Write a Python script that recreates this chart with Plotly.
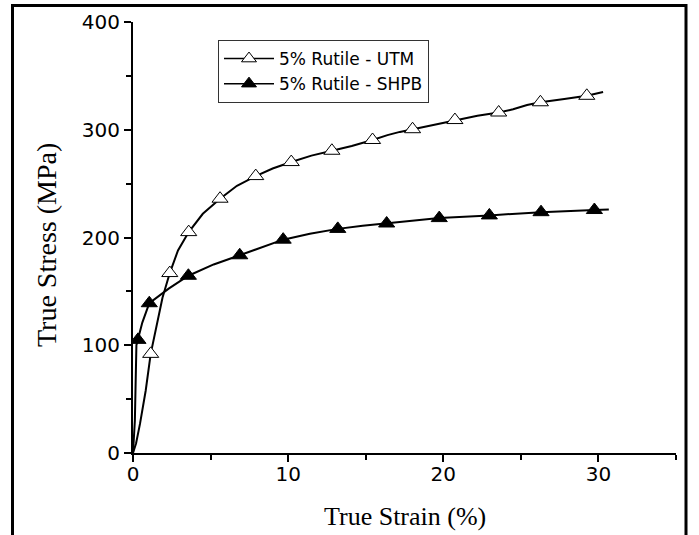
import plotly.graph_objects as go

# ---- data ----
utm_strain = [0, 0.2, 0.45, 0.82, 1.14, 1.5, 1.9, 2.37, 2.9, 3.59, 4.5, 5.61, 6.7, 7.91, 9.0,
              10.2, 11.5, 12.82, 14.1, 15.44, 16.4, 17.2, 18.02, 19.4, 20.75, 22.2, 23.57,
              24.5, 25.4, 26.26, 27.8, 29.25, 30.3]
utm_stress = [0, 9, 27, 58, 92, 116, 144, 167, 188, 205, 222, 236, 248, 257, 264,
              270, 276, 280.5, 285, 290.5, 295, 298, 300.5, 305, 309, 313, 316,
              319, 323, 325.5, 328.5, 331.5, 335]
utm_marker_strain = [1.14, 2.37, 3.59, 5.61, 7.91, 10.2, 12.82, 15.44, 18.02, 20.75, 23.57, 26.26, 29.25]
utm_marker_stress = [92, 167, 205, 236, 257, 270, 280.5, 290.5, 300.5, 309, 316, 325.5, 331.5]

shpb_strain = [0, 0.12, 0.22, 0.32, 0.6, 1.05, 2.3, 3.57, 5.2, 6.88, 8.3, 9.68, 11.4, 13.2,
               14.8, 16.35, 18.0, 19.74, 22.97, 26.3, 29.74, 30.67]
shpb_stress = [0, 30, 100, 105, 121, 139, 152.5, 164.5, 175, 183.5, 191, 198, 203.5, 208,
               211, 213, 215.5, 218, 220.5, 223.5, 225.5, 226]
shpb_marker_strain = [0.32, 1.05, 3.57, 6.88, 9.68, 13.2, 16.35, 19.74, 22.97, 26.3, 29.74]
shpb_marker_stress = [105, 139, 164.5, 183.5, 198, 208, 213, 218, 220.5, 223.5, 225.5]

series_names = ["5% Rutile - UTM", "5% Rutile - SHPB"]
x_ticks = [0, 10, 20, 30]
y_ticks = [0, 100, 200, 300, 400]
x_title = "True Strain (%)"
y_title = "True Stress (MPa)"

# ---- layout geometry (pixels) ----
W, H = 699, 535
L, R, T, B = 133, 23, 22, 82
pw, ph = W - L - R, H - T - B

def px(xp):
    return (xp - L) / pw

def py(yp):
    return (H - B - yp) / ph

fig = go.Figure()

styles = [
    dict(color="white", line=dict(color="black", width=1)),
    dict(color="black", line=dict(color="black", width=1)),
]
lines = [(utm_strain, utm_stress), (shpb_strain, shpb_stress)]
marks = [(utm_marker_strain, utm_marker_stress), (shpb_marker_strain, shpb_marker_stress)]

for i in range(2):
    fig.add_trace(go.Scatter(x=lines[i][0], y=lines[i][1], mode="lines",
                             line=dict(color="black", width=2), showlegend=False,
                             hoverinfo="skip"))
for i in range(2):
    fig.add_trace(go.Scatter(x=marks[i][0], y=marks[i][1], mode="markers",
                             marker=dict(symbol="triangle-up", size=14, **styles[i]),
                             showlegend=False, name=series_names[i]))
# legend entries
for i in range(2):
    fig.add_trace(go.Scatter(x=[None], y=[None], mode="lines+markers", name=series_names[i],
                             line=dict(color="black", width=1.5),
                             marker=dict(symbol="triangle-up", size=13, **styles[i])))

axis_common = dict(showline=True, linewidth=2, linecolor="black", showgrid=False,
                   zeroline=False, ticks="outside", ticklen=7, tickwidth=1.5,
                   tickcolor="black",
                   tickfont=dict(family="DejaVu Sans", size=20, color="black"))

fig.update_xaxes(range=[0, 35], tickvals=x_ticks, ticklabelstandoff=-5,
                 minor=dict(dtick=5, ticks="outside", ticklen=5, tickwidth=1.5, tickcolor="black"),
                 **axis_common)
fig.update_yaxes(range=[0, 400], tickvals=y_ticks,
                 minor=dict(dtick=50, ticks="outside", ticklen=5, tickwidth=1.5, tickcolor="black"),
                 **axis_common)

fig.add_annotation(text=y_title, xref="paper", yref="paper", x=px(46), y=py(245),
                   xanchor="center", yanchor="middle", textangle=-90, showarrow=False,
                   font=dict(family="Liberation Serif", size=28, color="black"))
fig.add_annotation(text=x_title, xref="paper", yref="paper", x=px(405), y=py(516),
                   xanchor="center", yanchor="middle", showarrow=False,
                   font=dict(family="Liberation Serif", size=26, color="black"))

# outer frame
fig.add_shape(type="rect", xref="paper", yref="paper",
              x0=px(12.5), x1=px(686), y0=py(540), y1=py(5.5),
              line=dict(color="black", width=3), fillcolor="rgba(0,0,0,0)", layer="above")

fig.update_layout(
    width=W, height=H,
    margin=dict(l=L, r=R, t=T, b=B, autoexpand=False),
    paper_bgcolor="white", plot_bgcolor="white",
    showlegend=True,
    legend=dict(x=px(218), y=py(40), xanchor="left", yanchor="top",
                bordercolor="#333", borderwidth=1, bgcolor="white",
                itemwidth=50,
                font=dict(family="DejaVu Sans", size=17, color="black"),
                tracegroupgap=0),
)

fig.write_html("out.html", config={"displayModeBar": False},
               post_script="document.body.style.margin='0';document.body.style.overflow='hidden';")
